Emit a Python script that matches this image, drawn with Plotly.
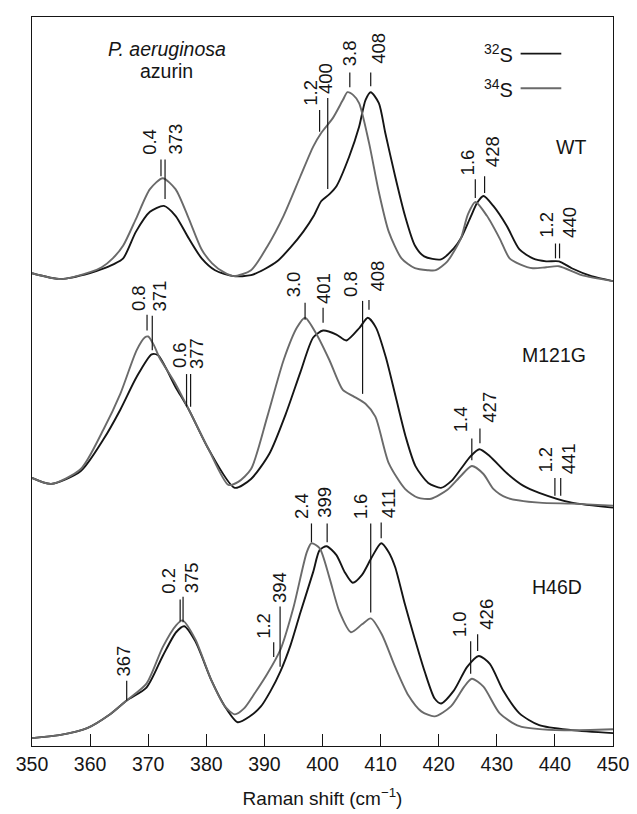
import plotly.graph_objects as go

# ---------------- spectra (x: Raman shift in cm-1, y: relative intensity incl. offset) -------------
wt_x_32 = [350, 355, 360, 362, 364, 365.7, 367.9, 370.3, 372.7, 374.7, 377.0, 379.2, 381.5, 384.7, 387.7,
           390, 392.2, 394.5, 396.7, 398.5, 399.8, 401.2, 402.4, 404.6, 406.3, 407.4, 408.3, 409.7, 410.8,
           412.5, 414.2, 415.9, 417.5, 420.4, 422.6, 423.8, 425.5, 426.6, 427.7, 429.4, 431.7, 433.9, 436.2,
           438.5, 440.7, 442.9, 446.3, 450]
wt_y_32 = [478, 472, 478, 482, 487, 493, 520, 540, 546, 536, 513, 493, 481, 475, 476,
           482, 490, 504, 520, 536, 551, 558, 566, 596, 626, 653, 661, 650, 620,
           576, 536, 506, 495, 492, 503, 513, 535, 549, 556, 546, 526, 502, 493,
           490, 490, 483, 475, 470]

wt_x_34 = [350, 355, 360, 362, 363.9, 365.7, 367.9, 370.3, 372.5, 374.7, 377.0, 379.2, 381.0, 383.0, 384.7,
           387.7, 390.5, 393.3, 396.2, 398.4, 399.8, 401.8, 403.5, 404.3, 405.3, 406.3, 408.0, 409.7, 411.4,
           413.6, 415.9, 418.1, 419.5, 421.5, 423.8, 425.0, 426.3, 428.3, 430.5, 432.2, 434.0, 436.2, 438.5,
           440.7, 444.6, 450]
wt_y_34 = [478, 472, 479, 484, 493, 506, 533, 563, 574, 563, 533, 502, 488, 479, 475,
           481, 505, 536, 576, 606, 620, 635, 653, 661, 658, 650, 610, 560, 520,
           493, 483, 481, 481, 490, 513, 537, 550, 536, 513, 493, 487, 483, 484,
           485, 476, 470]

m_x_32 = [350, 353.3, 358.4, 362.3, 365.2, 368.0, 370.6, 371.7, 374.7, 377.0, 380.4, 384.9, 387.7, 390.9,
          393.7, 396.2, 398.4, 400.1, 402.4, 404.1, 406.4, 407.8, 409.2, 410.9, 412.6, 414.3, 416.0, 418.2,
          420.4, 422.2, 423.8, 425.5, 427.0, 428.8, 431.7, 434.6, 437.3, 442.9, 450]
m_y_32 = [271, 265, 278, 310, 340, 373, 396, 395, 363, 340, 300, 261, 270, 296,
          336, 378, 413, 420, 416, 410, 423, 433, 423, 393, 353, 313, 283, 266,
          261, 268, 280, 293, 300, 293, 276, 263, 256, 246, 241]

m_x_34 = [350, 353.3, 358.4, 362.3, 365.2, 368.0, 369.4, 370.0, 371.0, 371.9, 374.7, 377.0, 380.4, 383.8,
          385.5, 387.7, 390.5, 393.3, 395.6, 397.0, 399.0, 401.2, 403.5, 405.2, 407.4, 409.1, 411.4, 414.2,
          416.4, 418.7, 421.5, 423.8, 425.7, 427.7, 429.4, 431.7, 437.3, 442.9, 450]
m_y_34 = [271, 265, 280, 320, 356, 400, 413, 414, 405, 393, 366, 340, 300, 264,
          267, 280, 333, 390, 423, 433, 416, 390, 360, 354, 346, 333, 286, 260,
          251, 250, 259, 273, 283, 275, 260, 251, 246, 245, 243]

h_x_32 = [350, 354.7, 359.5, 363.2, 366.3, 369.7, 372.5, 374.8, 376.2, 378.1, 380.9, 383.2, 385.4, 387.5,
          389.4, 391, 392.8, 394.5, 396.2, 398.4, 399.5, 400.7, 402.4, 403.8, 405.2, 406.8, 408.5, 410.1,
          411.4, 412.5, 414.2, 415.9, 417.6, 419.3, 420.4, 422.6, 424.9, 426.9, 428.8, 431.1, 433.9, 437.3,
          442.9, 450]
h_y_32 = [8, 11, 18, 31, 46, 59, 91, 115, 121, 106, 66, 40, 24, 30,
          40, 55, 76, 102, 135, 176, 198, 202, 193, 176, 165, 173, 191, 205,
          196, 181, 143, 108, 75, 48, 43, 56, 80, 91, 83, 56, 33, 21,
          16, 13]

h_x_34 = [350, 354.7, 359.5, 363.2, 366.3, 369.7, 372.5, 374.8, 375.9, 378.1, 380.9, 383.2, 384.9, 386.5,
          388.3, 390.5, 392.8, 395.0, 397.3, 398.1, 399.5, 401.2, 402.9, 404.9, 406.8, 408.3, 410.2, 412.5,
          414.8, 417.0, 419.3, 422.1, 424.4, 425.7, 427.7, 430.5, 433.9, 440.1, 450]
h_y_34 = [8, 11, 18, 31, 46, 63, 100, 122, 127, 108, 66, 40, 32, 38,
          53, 73, 98, 140, 196, 205, 200, 170, 136, 115, 123, 129, 113, 80,
          51, 35, 30, 40, 60, 68, 60, 33, 20, 16, 17]

# ---------------- peak annotations ----------------
# tick position, tick bottom, tick top, label text, label x, label bottom
ann_x = [372.2, 372.9, 399.5, 400.9, 404.7, 408.3, 426.3, 427.9, 440.1, 440.8,
         369.8, 370.7, 376.6, 377.3, 397.0, 400.1, 406.9, 408.0, 425.7, 427.1, 440.0, 441.0,
         366.3, 375.5, 376.0, 391.6, 392.7, 398.1, 400.8, 408.3, 410.1, 425.5, 426.7]
ann_y0 = [576, 553, 621, 563, 666, 667, 554, 559, 493, 493,
          420, 400, 343, 343, 431, 428, 356, 441, 289, 306, 253, 253,
          46, 126, 125, 90, 80, 206, 206, 135, 210, 73, 96]
ann_y1 = [593, 593, 643, 655, 681, 681, 573, 576, 508, 508,
          436, 435, 376, 376, 448, 443, 450, 451, 311, 321, 271, 271,
          66, 148, 151, 105, 141, 225, 225, 225, 226, 106, 113]
ann_text = ["0.4", "373", "1.2", "400", "3.8", "408", "1.6", "428", "1.2", "440",
            "0.8", "371", "0.6", "377", "3.0", "401", "0.8", "408", "1.4", "427", "1.2", "441",
            "367", "0.2", "375", "1.2", "394", "2.4", "399", "1.6", "411", "1.0", "426"]
lab_x = [370.2, 374.7, 397.8, 400.5, 404.7, 409.7, 424.9, 429.4, 438.5, 442.4,
         368.3, 371.9, 375.3, 378.3, 395.0, 400.2, 404.9, 409.4, 423.8, 428.6, 438.4, 442.4,
         365.7, 373.6, 377.4, 389.7, 392.5, 396.4, 400.4, 406.6, 411.4, 423.5, 428.3]
lab_y = [596, 596, 645, 657, 685, 688, 575, 583, 512, 512,
         438, 437, 380, 379, 452, 445, 452, 457, 315, 325, 274, 273,
         68, 152, 152, 106, 143, 227, 229, 227, 228, 108, 116]

x_ticks = [350, 360, 370, 380, 390, 400, 410, 420, 430, 440, 450]

BLACK = "#151515"
GRAY = "#6a6a6a"
FONT = "Liberation Sans, Arial, Helvetica, sans-serif"

fig = go.Figure()
for xs, ys, col in [(wt_x_32, wt_y_32, BLACK), (wt_x_34, wt_y_34, GRAY),
                    (m_x_32, m_y_32, BLACK), (m_x_34, m_y_34, GRAY),
                    (h_x_32, h_y_32, BLACK), (h_x_34, h_y_34, GRAY)]:
    fig.add_trace(go.Scatter(x=xs, y=ys, mode="lines",
                             line=dict(color=col, width=1.9, shape="spline", smoothing=0.7),
                             hoverinfo="skip"))

shapes = []
annotations = []
for i in range(len(ann_x)):
    shapes.append(dict(type="line", xref="x", yref="y", x0=ann_x[i], x1=ann_x[i],
                       y0=ann_y0[i], y1=ann_y1[i], line=dict(color=BLACK, width=1.2)))
    annotations.append(dict(x=lab_x[i], y=lab_y[i], xref="x", yref="y", text=ann_text[i],
                            textangle=-90, showarrow=False, xanchor="center", yanchor="bottom",
                            font=dict(size=18.5, color=BLACK, family=FONT)))

# legend (text then line sample)
shapes.append(dict(type="line", xref="x", yref="y", x0=434.1, x1=441.1, y0=700, y1=700,
                   line=dict(color=BLACK, width=1.9)))
shapes.append(dict(type="line", xref="x", yref="y", x0=434.1, x1=441.1, y0=665, y1=665,
                   line=dict(color=GRAY, width=1.9)))
annotations.append(dict(x=433.1, y=700, xref="x", yref="y", text="<sup>32</sup>S", showarrow=False,
                        xanchor="right", yanchor="middle", font=dict(size=20, color=BLACK, family=FONT)))
annotations.append(dict(x=433.1, y=665, xref="x", yref="y", text="<sup>34</sup>S", showarrow=False,
                        xanchor="right", yanchor="middle", font=dict(size=20, color=BLACK, family=FONT)))

# other labels
for txt, x, y in [("<i>P. aeruginosa</i>", 373.2, 705), ("azurin", 373.1, 682),
                  ("WT", 442.8, 606), ("M121G", 439.8, 395), ("H46D", 440.4, 161)]:
    annotations.append(dict(x=x, y=y, xref="x", yref="y", text=txt, showarrow=False,
                            xanchor="center", yanchor="middle",
                            font=dict(size=19.5, color=BLACK, family=FONT)))

# the page body keeps an 8 px default margin, so the figure is 8 px smaller and shifted
fig.update_layout(
    width=629, height=806,
    margin=dict(l=19, r=18, t=8, b=61),
    plot_bgcolor="white", paper_bgcolor="white",
    showlegend=False,
    font=dict(family=FONT, size=19, color=BLACK),
    shapes=shapes, annotations=annotations,
    xaxis=dict(range=[350, 450], tickvals=x_ticks, ticktext=[str(v) for v in x_ticks],
               ticks="inside", ticklen=12, tickwidth=1.2, tickcolor=BLACK,
               showline=True, linewidth=1.3, linecolor=BLACK, mirror=True,
               showgrid=False, zeroline=False, tickfont=dict(size=19.5, family=FONT, color=BLACK),
               title=dict(text="Raman shift (cm<sup>−1</sup>)", standoff=18,
                          font=dict(size=19, family=FONT, color=BLACK))),
    yaxis=dict(range=[0, 737], showline=True, linewidth=1.3, linecolor=BLACK, mirror=True,
               showticklabels=False, ticks="", showgrid=False, zeroline=False),
)

fig.write_html("out.html")
